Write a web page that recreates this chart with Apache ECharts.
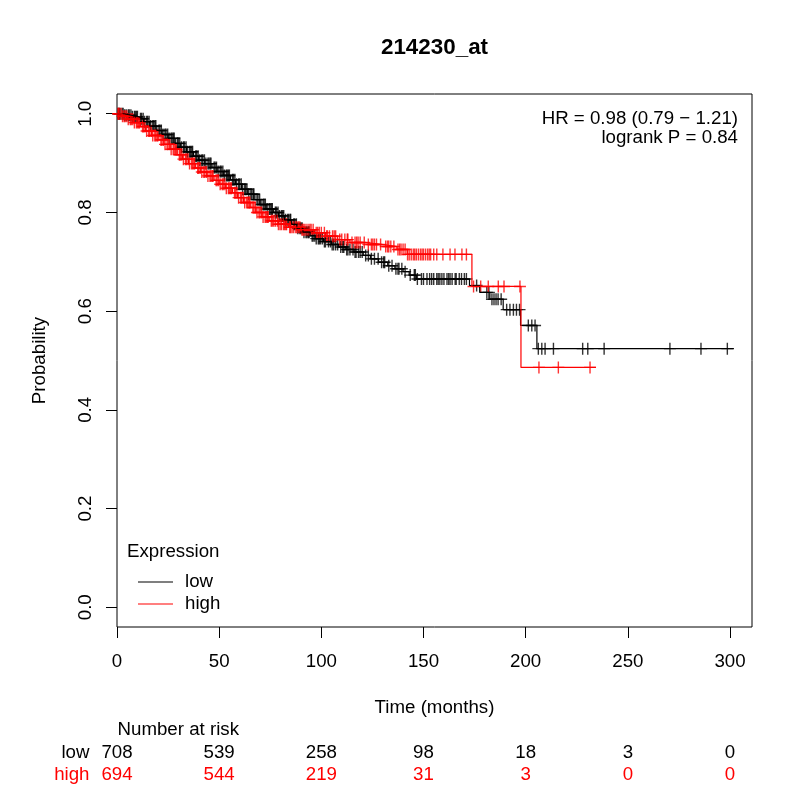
<!DOCTYPE html>
<html>
<head>
<meta charset="utf-8">
<script src="https://cdn.jsdelivr.net/npm/echarts@6/dist/echarts.min.js"></script>
<style>
  html, body { margin: 0; padding: 0; background: #fff; }
  #chart { width: 800px; height: 800px; }
</style>
</head>
<body>
<div id="chart"></div>
<script>
// survival steps (time in months, probability after the step)
var lowTime = [0, 3.5, 7, 10.5, 13, 16, 19.5, 22, 25, 28.5, 31, 34, 37.5, 40, 43, 46.5, 49, 52, 55.5, 58,
    61, 64, 67.5, 70, 73, 76.5, 79, 82, 85.5, 88, 91, 94.5, 97, 101, 105, 108.5, 112, 116, 120.5, 124,
    128, 132.5, 136, 140, 143, 146.5, 172.5, 177.5, 182.5, 189, 197.5, 205.5];
var lowSurv = [1.0, 0.997, 0.994, 0.99, 0.984, 0.975, 0.966, 0.958, 0.95, 0.94, 0.932, 0.923, 0.914, 0.906, 0.899, 0.891, 0.883, 0.875, 0.866, 0.857,
    0.847, 0.837, 0.826, 0.816, 0.807, 0.8, 0.793, 0.785, 0.776, 0.768, 0.76, 0.753, 0.747, 0.741, 0.735, 0.73, 0.725, 0.72, 0.713, 0.706,
    0.699, 0.692, 0.686, 0.68, 0.673, 0.665, 0.652, 0.638, 0.624, 0.603, 0.571, 0.524];
var lowEnd = 301.9;

var highTime = [0, 2.5, 5, 8, 11.5, 14, 17, 20.5, 23, 26, 29.5, 32, 35, 38.5, 41, 44, 47.5, 50, 53, 56.5,
    59, 62, 65.5, 68, 71, 74.5, 79, 84, 90, 96.5, 102, 108, 114, 122, 130, 137, 142, 173.7, 197.7];
var highSurv = [1.0, 0.995, 0.989, 0.982, 0.974, 0.965, 0.956, 0.947, 0.938, 0.928, 0.917, 0.908, 0.899, 0.89, 0.882, 0.874, 0.865, 0.857, 0.849, 0.84,
    0.83, 0.82, 0.81, 0.8, 0.791, 0.783, 0.776, 0.77, 0.765, 0.759, 0.752, 0.745, 0.739, 0.735, 0.731, 0.725, 0.715, 0.65, 0.486];
var highEnd = 234.4;

// censoring marks (times)
var lowCens = [0.5, 1.5, 2.5, 3, 4.5, 5.5, 6, 7.5, 8.5, 9, 10, 11.5, 12, 13.5, 14.5, 15, 16.5, 17.5, 18, 19,
    20.5, 21, 22.5, 23.5, 24, 25.5, 26.5, 27, 28, 29.5, 30, 31.5, 32.5, 33, 34.5, 35.5, 36, 37, 38.5, 39,
    40.5, 41.5, 42, 43.5, 44.5, 45, 46, 47.5, 48, 49.5, 50.5, 51, 52.5, 53.5, 54, 55, 56.5, 57, 58.5, 59.5,
    60, 61.5, 62.5, 63, 64.5, 65.5, 66, 67, 68.5, 69, 70.5, 71.5, 72, 73.5, 74.5, 75, 76, 77.5, 78, 79.5,
    80.5, 81, 82.5, 83.5, 84, 85, 86.5, 87, 88.5, 89.5, 90, 91.5, 92.5, 93, 94, 95.5, 96, 97.5, 98.5, 99,
    100.5, 101.5, 102, 103.5, 104.5, 106, 107, 108, 109.5, 110.5, 111, 113, 114, 115.5, 116.5, 117, 119, 120, 123, 124.5,
    126, 129.5, 130.5, 131, 133, 136.5, 137.5, 138, 141, 143.5, 145.5, 146, 147, 149, 150, 153, 154, 155, 156.5, 158,
    159, 160, 161.5, 163, 164, 165.5, 166, 167.5, 170, 171, 176, 181, 182, 183.5, 184.5, 185.5, 186.5, 188, 190.7, 192.3,
    194, 195.5, 197, 201.3, 203, 204.6, 206.2, 207.9, 209.5, 213.6, 227.9, 230.4, 238.4, 270.6, 285.8, 298.7,
    1.2, 3.7, 6.8, 9.6, 12.8, 15.7, 18.6, 21.7, 24.8, 27.6, 30.7, 33.8, 36.6, 39.7, 42.8, 45.6, 48.7, 51.8, 54.6, 57.7,
    60.8, 63.6, 66.7, 69.8, 72.6, 75.7, 78.8, 81.6, 84.7, 87.8, 90.6, 93.7, 96.8, 99.6, 105.3, 112.4, 118.2, 121.7, 127.8, 134.6,
    139.4, 151.7, 157.2, 162.3, 168.6];
var highCens = [0.5, 1, 2, 3.5, 4, 5.5, 6.5, 7, 8.5, 9.5, 10, 11, 12.5, 13, 14.5, 15.5, 16, 17.5, 18.5, 19,
    20, 21.5, 22, 23.5, 24.5, 25, 26.5, 27.5, 28, 29, 30.5, 31, 32.5, 33.5, 34, 35.5, 36.5, 37, 38, 39.5,
    40, 41.5, 42.5, 43, 44.5, 45.5, 46, 47, 48.5, 49, 50.5, 51.5, 52, 53.5, 54.5, 55, 56, 57.5, 58, 59.5,
    60.5, 61, 62.5, 63.5, 64, 65, 66.5, 67, 68.5, 69.5, 70, 71.5, 72.5, 73, 74, 75.5, 76, 77.5, 78.5, 79,
    80.5, 81.5, 82, 83, 84.5, 85, 86.5, 87.5, 88, 89.5, 90.5, 91, 92.5, 93.5, 95, 96, 97.5, 99, 100, 101.5,
    103, 104, 105.5, 107, 109, 110, 111.5, 113, 115, 116.5, 118, 119, 121, 123, 124.5, 126, 127, 129, 131.5, 133,
    134, 135.5, 137.5, 139, 140, 141, 143, 144, 145, 146.5, 147.5, 148.5, 150, 151, 152, 153.5, 155, 156.5, 159.5, 163,
    165.4, 168.8, 171, 174.5, 178, 181.7, 186.6, 189.4, 197.2, 206.5, 216, 231.5,
    0.8, 2.7, 4.8, 7.7, 10.6, 13.7, 16.8, 19.6, 22.7, 25.8, 28.6, 31.7, 34.8, 37.6, 40.7, 43.8, 46.6, 49.7, 52.8, 55.6,
    58.7, 61.8, 64.6, 67.7, 70.8, 73.6, 76.7, 79.8, 82.6, 85.7, 88.8, 91.6, 94.4, 98.2, 102.6, 106.3, 112.7, 117.3, 125.2, 132.4,
    138.3, 142.2, 145.7, 149.3, 152.8];

// number at risk table
var riskTimes = [0, 50, 100, 150, 200, 250, 300];
var lowRisk = [708, 539, 258, 98, 18, 3, 0];
var highRisk = [694, 544, 219, 31, 3, 0, 0];

var xTicks = [0, 50, 100, 150, 200, 250, 300];
var yTicks = [0, 0.2, 0.4, 0.6, 0.8, 1.0];

var FONT = "'Liberation Sans', Arial, Helvetica, sans-serif";
var FS = 18.7;
var XMAX = 310.77;
var LOW_COLOR = '#000';
var HIGH_COLOR = '#ff0000';
var PLUS = 'path://M5.3,0h1.4v5.3h5.3v1.4h-5.3v5.3h-1.4v-5.3h-5.3v-1.4h5.3z';

function stepLine(times, surv, end) {
    var pts = [];
    for (var i = 0; i < times.length; i++) pts.push([times[i], surv[i]]);
    pts.push([end, surv[surv.length - 1]]);
    return pts;
}

function survAt(times, surv, t) {
    var p = surv[0];
    for (var i = 0; i < times.length; i++) {
        if (times[i] <= t) p = surv[i];
    }
    return p;
}

function censPoints(cens, times, surv) {
    return cens.map(function (t) { return [t, survAt(times, surv, t)]; });
}

function riskAxis(values, color, offset) {
    return {
        type: 'value', gridIndex: 0, position: 'bottom', offset: offset,
        min: 0, max: XMAX,
        axisLine: { show: false, onZero: false }, axisTick: { show: false }, splitLine: { show: false },
        axisLabel: {
            customValues: riskTimes, margin: 0, color: color,
            fontSize: FS, lineHeight: 19, fontFamily: FONT,
            formatter: function (v) { return String(values[riskTimes.indexOf(v)]); }
        }
    };
}

var option = {
    animation: false,
    textStyle: { fontFamily: FONT },
    grid: {
        left: 117, right: 48, top: 94, bottom: 173,
        show: true, borderColor: '#000', borderWidth: 1, backgroundColor: 'transparent'
    },
    legend: {
        data: [
            { name: 'low', itemStyle: { color: LOW_COLOR, borderWidth: 0 } },
            { name: 'high', itemStyle: { color: HIGH_COLOR, borderWidth: 0 } }
        ],
        orient: 'vertical', left: 133, top: 567.5,
        icon: 'rect', itemWidth: 35, itemHeight: 1.2, itemGap: 3,
        selectedMode: false,
        textStyle: { fontSize: FS, lineHeight: 19, color: '#000', fontFamily: FONT, padding: [0, 0, 0, 7] }
    },
    xAxis: [
        {
            type: 'value', min: 0, max: XMAX,
            name: 'Time (months)', nameLocation: 'middle', nameGap: 71,
            nameTextStyle: { fontSize: FS, lineHeight: 19, color: '#000', fontFamily: FONT },
            axisLine: { show: false, onZero: false },
            axisTick: { show: true, customValues: xTicks, length: 11, lineStyle: { color: '#000' } },
            axisLabel: { customValues: xTicks, margin: 25, fontSize: FS, lineHeight: 19, color: '#000', fontFamily: FONT },
            splitLine: { show: false }
        },
        riskAxis(lowRisk, LOW_COLOR, 116),
        riskAxis(highRisk, HIGH_COLOR, 138.5)
    ],
    yAxis: {
        type: 'value', min: -0.04, max: 1.04,
        name: 'Probability', nameLocation: 'middle', nameGap: 68, nameRotate: 90,
        nameTextStyle: { fontSize: FS, lineHeight: 19, color: '#000', fontFamily: FONT },
        axisLine: { show: false, onZero: false },
        axisTick: { show: true, customValues: yTicks, length: 11, lineStyle: { color: '#000' } },
        axisLabel: {
            customValues: yTicks, rotate: 90, margin: 22, fontSize: FS, lineHeight: 19, color: '#000', fontFamily: FONT,
            formatter: function (v) { return v.toFixed(1); }
        },
        splitLine: { show: false }
    },
    graphic: [
        { type: 'text', x: 434.5, y: 48, style: { text: '214230_at', fill: '#000', font: 'bold 22.4px ' + FONT, textAlign: 'center', textVerticalAlign: 'middle' } },
        { type: 'text', x: 738, y: 119, style: { text: 'HR = 0.98 (0.79 \u2212 1.21)', fill: '#000', font: FS + 'px ' + FONT, textAlign: 'right', textVerticalAlign: 'middle' } },
        { type: 'text', x: 738, y: 138, style: { text: 'logrank P = 0.84', fill: '#000', font: FS + 'px ' + FONT, textAlign: 'right', textVerticalAlign: 'middle' } },
        { type: 'text', x: 127, y: 552, style: { text: 'Expression', fill: '#000', font: FS + 'px ' + FONT, textAlign: 'left', textVerticalAlign: 'middle' } },
        { type: 'text', x: 117.5, y: 730, style: { text: 'Number at risk', fill: '#000', font: FS + 'px ' + FONT, textAlign: 'left', textVerticalAlign: 'middle' } },
        { type: 'text', x: 89.5, y: 752.5, style: { text: 'low', fill: LOW_COLOR, font: FS + 'px ' + FONT, textAlign: 'right', textVerticalAlign: 'middle' } },
        { type: 'text', x: 89.5, y: 775, style: { text: 'high', fill: HIGH_COLOR, font: FS + 'px ' + FONT, textAlign: 'right', textVerticalAlign: 'middle' } }
    ],
    series: [
        {
            name: 'low', type: 'line', step: 'end', symbol: 'none', showSymbol: false,
            lineStyle: { color: LOW_COLOR, width: 1.2 }, itemStyle: { color: LOW_COLOR },
            data: stepLine(lowTime, lowSurv, lowEnd)
        },
        {
            name: 'low censored', type: 'scatter', symbol: PLUS, symbolSize: 12,
            itemStyle: { color: LOW_COLOR },
            data: censPoints(lowCens, lowTime, lowSurv)
        },
        {
            name: 'high', type: 'line', step: 'end', symbol: 'none', showSymbol: false,
            lineStyle: { color: HIGH_COLOR, width: 1.2 }, itemStyle: { color: HIGH_COLOR },
            data: stepLine(highTime, highSurv, highEnd)
        },
        {
            name: 'high censored', type: 'scatter', symbol: PLUS, symbolSize: 12,
            itemStyle: { color: HIGH_COLOR },
            data: censPoints(highCens, highTime, highSurv)
        }
    ]
};

var chart = echarts.init(document.getElementById('chart'));
chart.setOption(option);
</script>
</body>
</html>
